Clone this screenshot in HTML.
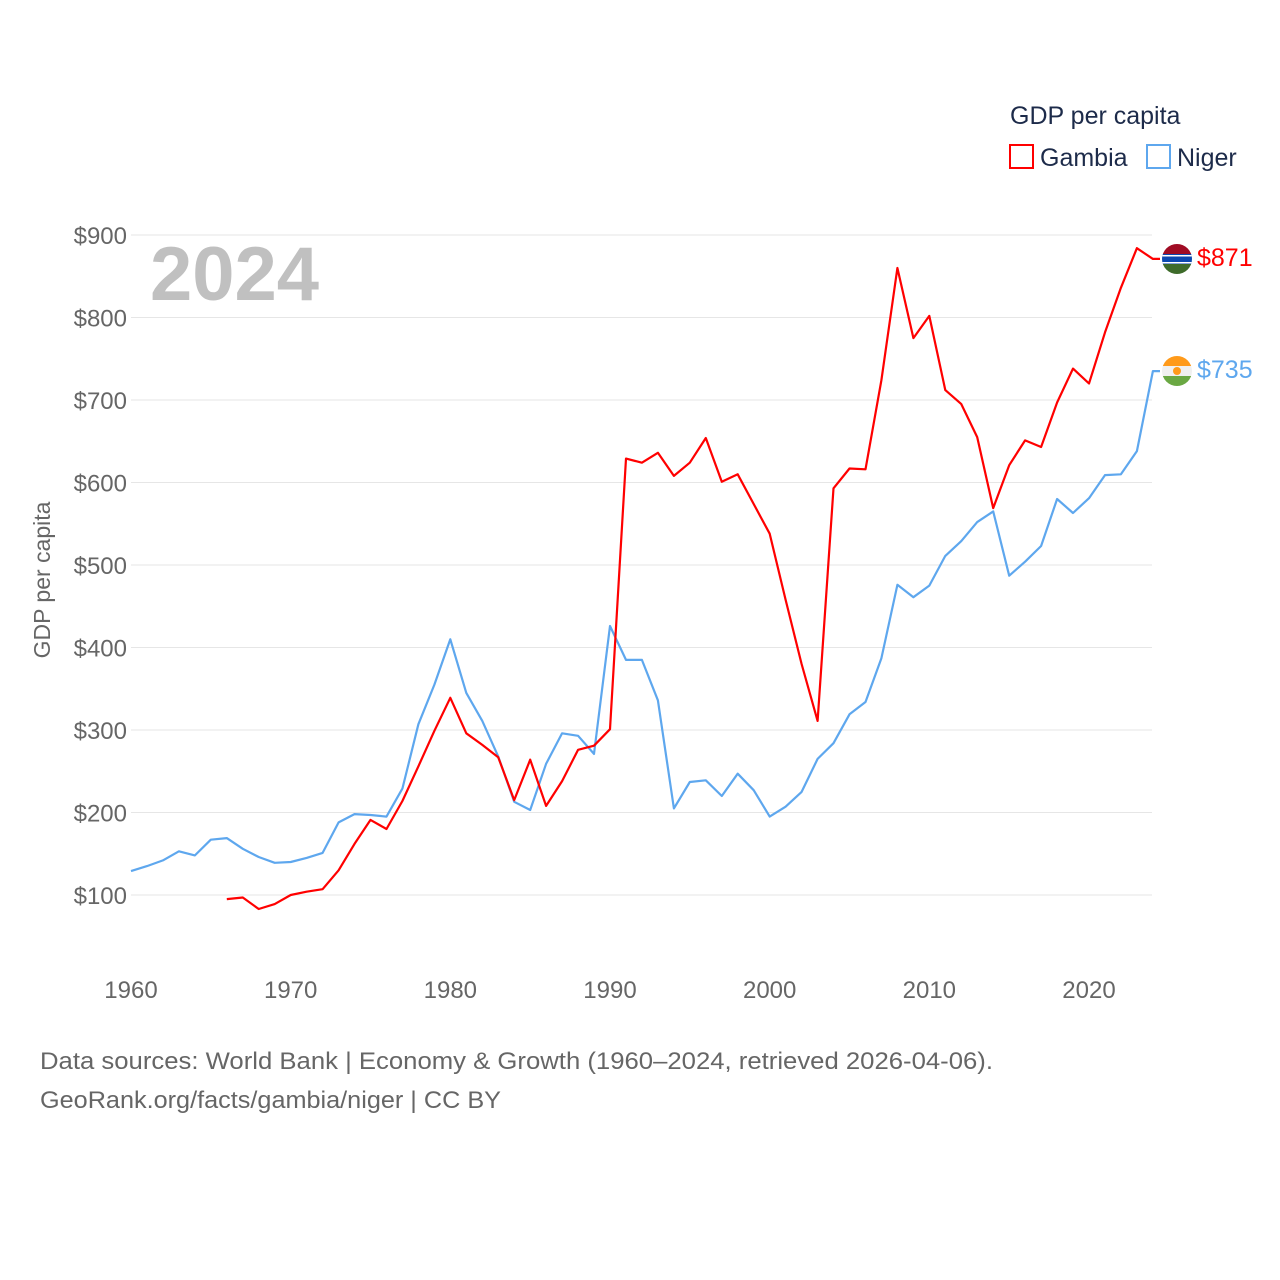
<!DOCTYPE html>
<html><head><meta charset="utf-8"><style>
body{margin:0;background:#fff;font-family:"Liberation Sans",sans-serif}
</style></head><body>
<svg id="chart" width="1280" height="1280" xmlns="http://www.w3.org/2000/svg" style="display:block">
<text x="1010" y="124" font-size="25" fill="#1d2b4a">GDP per capita</text>
<rect x="1010" y="145" width="23" height="23" fill="none" stroke="#ff0000" stroke-width="2"/>
<text x="1040" y="166" font-size="25" fill="#1d2b4a">Gambia</text>
<rect x="1147" y="145" width="23" height="23" fill="none" stroke="#5ea7ee" stroke-width="2"/>
<text x="1177" y="166" font-size="25" fill="#1d2b4a">Niger</text>
<text x="150" y="300" font-size="76" font-weight="bold" fill="#c0c0c0">2024</text>
<text transform="translate(50,580) rotate(-90)" text-anchor="middle" font-size="23" fill="#666">GDP per capita</text>
<g id="grid"></g><g id="lines"></g>
<g>
<clipPath id="c1"><circle cx="1177" cy="259" r="15"/></clipPath>
<g clip-path="url(#c1)"><rect x="1160" y="243" width="34" height="11" fill="#a00c24"/><rect x="1160" y="254" width="34" height="10" fill="#0c48b0"/><rect x="1160" y="255" width="34" height="1.5" fill="#fff"/><rect x="1160" y="262" width="34" height="1.5" fill="#fff"/><rect x="1160" y="264" width="34" height="12" fill="#3e6b2a"/></g></g>
<g>
<clipPath id="c2"><circle cx="1177" cy="371" r="15"/></clipPath>
<g clip-path="url(#c2)"><rect x="1160" y="355" width="34" height="11" fill="#ff9a1a"/><rect x="1160" y="366" width="34" height="10" fill="#f0f0f0"/><rect x="1160" y="376" width="34" height="12" fill="#6aa843"/><circle cx="1177" cy="371" r="4" fill="#ff9a1a"/></g></g>
<text x="40" y="1069" font-size="24" fill="#666" textLength="953" lengthAdjust="spacingAndGlyphs">Data sources: World Bank | Economy &amp; Growth (1960–2024, retrieved 2026-04-06).</text>
<text x="40" y="1108" font-size="24" fill="#666" textLength="461" lengthAdjust="spacingAndGlyphs">GeoRank.org/facts/gambia/niger | CC BY</text>
</svg>
<script>
const years=[];for(let y=1960;y<=2024;y++)years.push(y);
const nigerValues=[129,135,142,153,148,167,169,156,146,139,140,145,151,188,198,197,195,229,307,355,410,345,311,268,213,203,259,296,293,271,426,385,385,336,205,237,239,220,247,227,195,207,225,265,284,319,334,387,476,461,475,511,529,552,565,487,504,523,580,563,581,609,610,638,735];
const gambiaStart=1966;
const gambiaValues=[95,97,83,89,100,104,107,130,162,191,180,214,256,299,339,296,282,267,215,264,208,238,276,281,301,629,624,636,608,624,654,601,610,574,538,458,380,311,593,617,616,724,860,775,802,712,695,655,569,621,651,643,697,738,720,782,836,884,871];
const yTicks=[100,200,300,400,500,600,700,800,900];
const xTicks=[1960,1970,1980,1990,2000,2010,2020];
const X=y=>131+(y-1960)*958/60, Y=v=>977.5-v*0.825;
const NS="http://www.w3.org/2000/svg";
const svg=document.getElementById('chart'),grid=document.getElementById('grid'),lines=document.getElementById('lines');
function mk(t,a,p){const e=document.createElementNS(NS,t);for(const k in a)e.setAttribute(k,a[k]);p.appendChild(e);return e;}
yTicks.forEach(v=>{
 const l=mk('line',{x1:131,x2:1152,y1:Y(v),y2:Y(v),stroke:'#e6e6e6','stroke-width':1},grid);
 
 
 const t=mk('text',{x:127,y:Y(v)+9,'text-anchor':'end','font-size':24,fill:'#666'},grid);
 t.textContent='$'+v;
 
 
});
xTicks.forEach(y=>{
 const t=mk('text',{x:X(y),y:998,'text-anchor':'middle','font-size':24,fill:'#666'},grid);
 t.textContent=y;
 
 
});
function series(xs,vs,color,name){
 let d=xs.map((y,i)=>(i?'L':'M')+X(y).toFixed(1)+','+Y(vs[i]).toFixed(1)).join('');
 d+='L1160,'+Y(vs[vs.length-1]).toFixed(1);
 const p=mk('path',{d:d,fill:'none',stroke:color,'stroke-width':2.2,'stroke-linejoin':'round'},lines);
 
 
 const t=mk('text',{x:1197,y:Y(vs[vs.length-1])+7,'font-size':25,fill:color},lines);
 t.textContent='$'+vs[vs.length-1];
 
 
}
series(years,nigerValues,'#5ea7ee','niger');
series(gambiaValues.map((_,i)=>gambiaStart+i),gambiaValues,'#ff0000','gambia');
</script>
</body></html>
